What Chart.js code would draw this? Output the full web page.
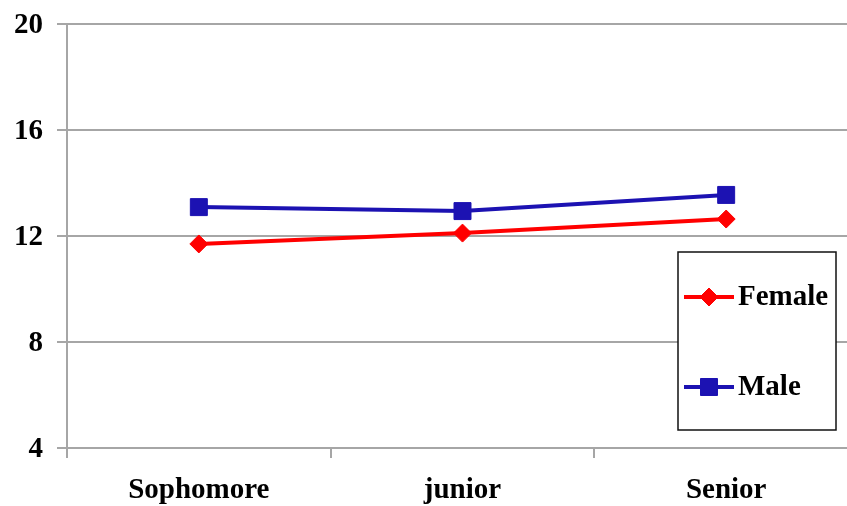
<!DOCTYPE html>
<html>
<head>
<meta charset="utf-8">
<script src="https://cdn.jsdelivr.net/npm/chart.js@4/dist/chart.umd.min.js"></script>
<style>
  html, body { margin: 0; padding: 0; background: #ffffff; overflow: hidden; }
  /* the plot runs a little past the right edge of the visible frame */
  #wrap { width: 847px; height: 506px; overflow: hidden; position: relative; }
  #c { display: block; position: absolute; left: 0; top: 0; }
</style>
</head>
<body>
<div id="wrap"><canvas id="c" width="860" height="506"></canvas></div>
<script>
// Class years on the x axis
const categories = ['Sophomore', 'junior', 'Senior'];
// Mean scores per class year
const femaleValues = [11.70, 12.11, 12.64];
const maleValues = [13.09, 12.94, 13.55];
// Value axis ticks
const yTicks = [4, 8, 12, 16, 20];

const FONT = "'Liberation Serif', 'Times New Roman', serif";
const RED = '#ff0000';
const BLUE = '#1c12b2';

// Boxed legend drawn inside the plot area, right side
const boxedLegend = {
  id: 'boxedLegend',
  afterDraw(chart) {
    const ctx = chart.ctx;
    const box = { x: 678, y: 252, w: 158, h: 178 };
    ctx.save();
    ctx.fillStyle = '#ffffff';
    ctx.fillRect(box.x, box.y, box.w, box.h);
    ctx.lineWidth = 1.5;
    ctx.strokeStyle = '#111111';
    ctx.strokeRect(box.x, box.y, box.w, box.h);
    const rows = [297, 387];
    chart.data.datasets.forEach((ds, i) => {
      const y = rows[i];
      ctx.strokeStyle = ds.borderColor;
      ctx.lineWidth = ds.borderWidth;
      ctx.beginPath();
      ctx.moveTo(684, y);
      ctx.lineTo(734, y);
      ctx.stroke();
      ctx.fillStyle = ds.pointBackgroundColor;
      ctx.strokeStyle = ds.pointBorderColor;
      ctx.lineWidth = 1;
      Chart.helpers.drawPoint(ctx, {
        pointStyle: ds.pointStyle,
        radius: ds.pointRadius,
        rotation: 0,
        borderWidth: 1
      }, 709, y);
      ctx.fillStyle = '#000000';
      ctx.font = "bold 29px " + FONT;
      ctx.textAlign = 'left';
      ctx.textBaseline = 'middle';
      ctx.fillText(ds.label, 738, y + 1);
    });
    ctx.restore();
  }
};

new Chart(document.getElementById('c'), {
  type: 'line',
  data: {
    labels: categories,
    datasets: [
      {
        label: 'Female',
        data: femaleValues,
        borderColor: RED,
        backgroundColor: RED,
        pointBackgroundColor: RED,
        pointBorderColor: RED,
        borderWidth: 4,
        pointStyle: 'rectRot',
        pointRadius: 9,
        pointBorderWidth: 1,
        tension: 0
      },
      {
        label: 'Male',
        data: maleValues,
        borderColor: BLUE,
        backgroundColor: BLUE,
        pointBackgroundColor: BLUE,
        pointBorderColor: BLUE,
        borderWidth: 4,
        pointStyle: 'rect',
        pointRadius: 12,
        pointBorderWidth: 1,
        tension: 0
      }
    ]
  },
  options: {
    responsive: false,
    animation: false,
    layout: { autoPadding: false, padding: { top: 24, left: 0, right: 2, bottom: 0 } },
    plugins: {
      legend: { display: false },
      tooltip: { enabled: false }
    },
    scales: {
      x: {
        offset: true,
        grid: {
          offset: true,
          drawOnChartArea: false,
          drawTicks: true,
          tickLength: 10,
          color: '#a6a6a6',
          lineWidth: 2
        },
        border: { display: true, color: '#a6a6a6', width: 2 },
        ticks: {
          color: '#000000',
          padding: 15,
          font: { family: FONT, size: 29, weight: 'bold' },
          maxRotation: 0
        },
        afterFit(scale) {
          scale.height = 58;
          scale.paddingLeft = 0;
          scale.paddingRight = 0;
        }
      },
      y: {
        min: 4,
        max: 20,
        afterBuildTicks(scale) { scale.ticks = yTicks.map(v => ({ value: v })); },
        grid: {
          color: '#a6a6a6',
          lineWidth: 2,
          drawTicks: true,
          tickLength: 10
        },
        border: { display: true, color: '#a6a6a6', width: 2 },
        ticks: {
          color: '#000000',
          padding: 14,
          labelOffset: 2,
          font: { family: FONT, size: 29, weight: 'bold' }
        },
        afterFit(scale) {
          scale.width = 67;
          scale.paddingTop = 0;
          scale.paddingBottom = 0;
        }
      }
    }
  },
  plugins: [boxedLegend]
});
</script>
</body>
</html>
